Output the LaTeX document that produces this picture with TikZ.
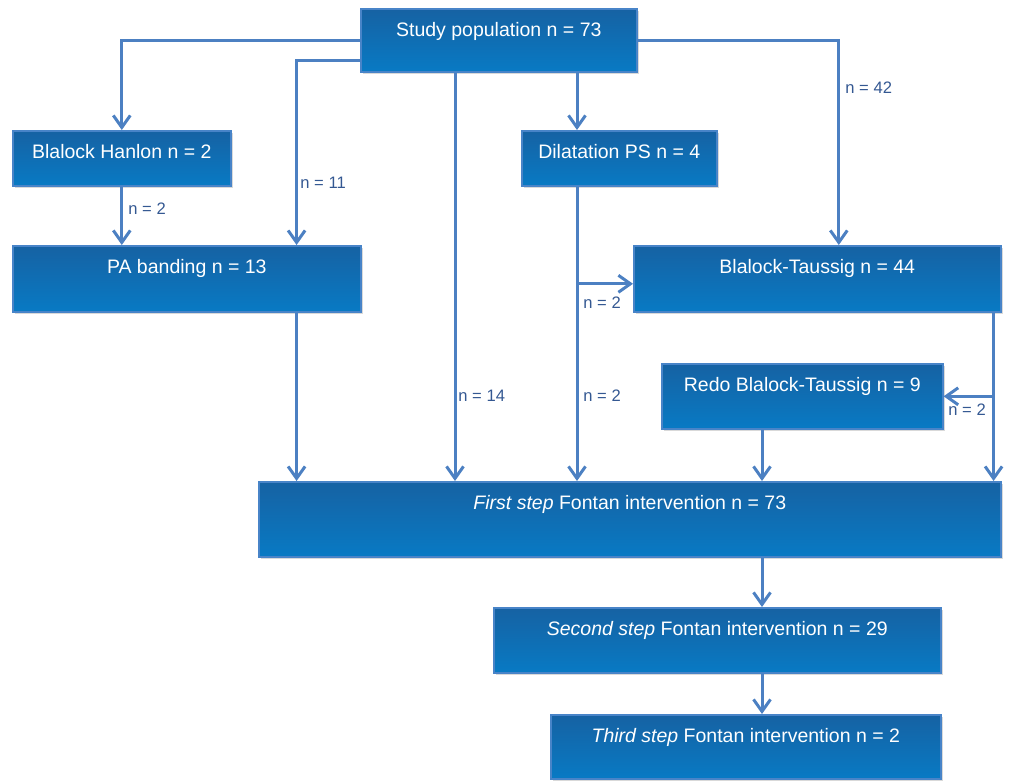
\documentclass[tikz,border=0pt]{standalone}
\usepackage{fontspec}
\setmainfont{Liberation Sans}
\usetikzlibrary{arrows.meta,shadows}
\definecolor{cajaarriba}{RGB}{22,98,163}
\definecolor{cajaabajo}{RGB}{8,122,196}
\definecolor{borde}{RGB}{72,132,200}
\definecolor{linea}{RGB}{76,128,194}
\definecolor{etiqueta}{RGB}{52,88,146}
\tikzset{
    caja/.style 2 args={draw=borde, line width=0.8pt, top color=cajaarriba, bottom color=cajaabajo,
        anchor=north west, minimum width=#1, text height=7pt, text depth=#2, inner ysep=7pt, inner xsep=0pt,
        text=white, font=\fontsize{9.75}{11.7}\selectfont,
        drop shadow={shadow xshift=1.2pt, shadow yshift=-1.2pt, opacity=0.3}},
    flecha/.style={draw=linea, line width=1.5pt, -{Straight Barb[length=6pt,width=8.5pt,line width=1.5pt]}},
    etiq/.style={anchor=west, inner sep=0pt, text=etiqueta, font=\fontsize{8.3}{10}\selectfont},
}
\begin{document}
\begin{tikzpicture}[x=0.5pt, y=-0.5pt]
    \useasboundingbox (0,0) rectangle (1018,782); % marco de la figura
    \node[caja={138pt}{10.5pt}] (study) at (360,8) {Study population n = 73}; % caja superior
    \node[caja={109pt}{6.5pt}] (hanlon) at (12,130) {Blalock Hanlon n = 2};
    \node[caja={97.5pt}{6.5pt}] (dilat) at (521,130) {Dilatation PS n = 4};
    \node[caja={174pt}{12pt}] (banding) at (12,245) {PA banding n = 13};
    \node[caja={183.5pt}{12pt}] (taussig) at (633,245) {Blalock-Taussig n = 44};
    \node[caja={140.5pt}{11.5pt}] (redo) at (661,363) {Redo Blalock-Taussig n = 9};
    \node[caja={371pt}{16.5pt}] (first) at (258,481) {\textit{First step} Fontan intervention n = 73}; % caja grande
    \node[caja={223.5pt}{11.5pt}] (second) at (493,607) {\textit{Second step} Fontan intervention n = 29};
    \node[caja={195pt}{11pt}] (third) at (550,714) {\textit{Third step} Fontan intervention n = 2};

    \coordinate (s1) at ([xshift=47.5pt]study.south west); % salida hacia first
    \coordinate (s2) at ([xshift=108.5pt]study.south west); % salida hacia dilat
    \coordinate (d1) at ([xshift=28pt]dilat.south west);
    \coordinate (b1) at ([xshift=-32.5pt]banding.south east);
    \coordinate (r1) at ([xshift=50.5pt]redo.south west);
    \coordinate (t1) at ([xshift=-4pt]taussig.south east);
    \coordinate (btin) at ([yshift=-2.5pt]taussig.west); % entrada lateral

    \draw[flecha] (study.west) -| (hanlon.north);
    \draw[flecha] ([yshift=-10.25pt]study.west) -| (b1 |- banding.north);
    \draw[flecha] (s1) -- (s1 |- first.north);
    \draw[flecha] (s2) -- (s2 |- dilat.north);
    \draw[flecha] (study.east) -| ([xshift=10.75pt]taussig.north);
    \draw[flecha] (hanlon.south) -- (hanlon.south |- banding.north);
    \draw[flecha] (d1) -- (d1 |- first.north);
    \draw[flecha] (btin -| d1) -- (btin);
    \draw[flecha] (b1) -- (b1 |- first.north);
    \draw[flecha] (r1) -- (r1 |- first.north);
    \draw[flecha] (t1) -- (t1 |- first.north);
    \draw[flecha] (t1 |- redo.east) -- (redo.east); % rama hacia redo
    \draw[flecha] (r1 |- first.south) -- (r1 |- second.north);
    \draw[flecha] (r1 |- second.south) -- (r1 |- third.north);

    \node[etiq] (n11) at (300,183) {n = 11};
    \node[etiq] (n14) at (458,396) {n = 14};
    \node[etiq] (n42) at (845,88) {n = 42};
    \node[etiq] (n2a) at (128,209) {n = 2};
    \node[etiq] (n2b) at (583,303) {n = 2};
    \node[etiq] (n2c) at (583,396) {n = 2};
    \node[etiq] (n2d) at (948,410) {n = 2};
\end{tikzpicture}
\end{document}
